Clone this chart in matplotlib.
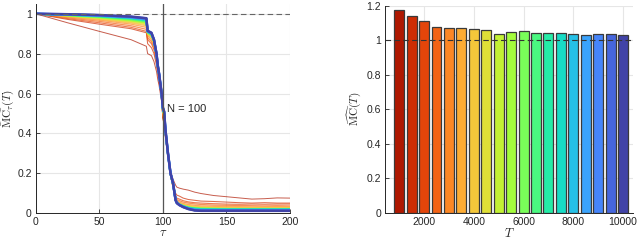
import numpy as np
import matplotlib
matplotlib.use("Agg")
import matplotlib.pyplot as plt

plt.rcParams['font.family'] = ['Liberation Sans', 'DejaVu Sans']
plt.rcParams['mathtext.fontset'] = 'cm'

# sample sizes T (one curve / one bar each)
T_values = [1000, 1500, 2000, 2500, 3000, 3500, 4000, 4500, 5000, 5500,
            6000, 6500, 7000, 7500, 8000, 8500, 9000, 9500, 10000]

# total memory capacity per T (right panel)
mc_total = [1.172, 1.138, 1.109, 1.075, 1.073, 1.069, 1.063, 1.056, 1.038, 1.048,
            1.050, 1.042, 1.040, 1.040, 1.034, 1.031, 1.034, 1.033, 1.031]

tau = [0, 25, 50, 75, 87, 88, 91, 93, 95, 96, 97, 99, 100, 101, 102, 104, 106, 108,
       110, 111, 113, 116, 120, 125, 130, 140, 150, 160, 170, 180, 190, 200]

# memory curve MC_tau(T), one row per T
mc_tau = [
    [1, .955, .912, .870, .837, .800, .790, .760, .710, .670, .640, .560, .480, .460, .390, .290, .210, .170,
     .140, .130, .125, .120, .115, .105, .098, .088, .082, .076, .070, .072, .076, .075],
    [1, .972, .948, .925, .905, .850, .830, .800, .740, .700, .660, .580, .470, .450, .380, .280, .190, .140,
     .100, .090, .085, .075, .068, .064, .060, .058, .055, .052, .050, .052, .050, .050],
    [1, .976, .955, .932, .912, .870, .850, .820, .760, .710, .670, .580, .480, .460, .390, .280, .190, .130,
     .085, .075, .070, .062, .056, .052, .050, .047, .045, .044, .045, .044, .045, .045],
    [1, .980, .962, .940, .922, .880, .860, .830, .770, .720, .680, .590, .490, .470, .390, .290, .190, .130,
     .080, .068, .062, .055, .050, .046, .043, .040, .039, .038, .037, .036, .037, .036],
    [1, .984, .968, .948, .932, .890, .870, .840, .780, .720, .690, .590, .490, .470, .400, .290, .190, .130,
     .075, .062, .055, .048, .043, .039, .036, .034, .033, .032, .031, .031, .032, .031],
    [1, .987, .972, .954, .940, .895, .880, .850, .780, .730, .690, .590, .500, .480, .400, .290, .190, .140,
     .072, .058, .050, .043, .038, .034, .031, .029, .028, .028, .027, .027, .027, .027],
    [1, .989, .975, .958, .945, .900, .885, .855, .785, .730, .690, .595, .510, .490, .405, .295, .195, .140,
     .070, .056, .047, .040, .034, .030, .028, .026, .025, .025, .025, .025, .025, .025],
    [1, .990, .978, .962, .950, .902, .888, .857, .787, .731, .691, .596, .512, .492, .407, .296, .196, .142,
     .069, .055, .046, .038, .032, .028, .026, .024, .023, .023, .023, .023, .023, .023],
    [1, .991, .980, .965, .954, .904, .890, .859, .789, .732, .692, .596, .514, .494, .408, .296, .196, .143,
     .068, .054, .045, .037, .030, .026, .024, .023, .022, .022, .022, .022, .022, .022],
    [1, .992, .982, .968, .958, .905, .892, .861, .790, .733, .693, .597, .516, .496, .410, .297, .197, .144,
     .068, .054, .044, .036, .029, .025, .023, .022, .021, .021, .021, .021, .021, .021],
    [1, .993, .984, .971, .961, .906, .894, .862, .792, .734, .694, .597, .518, .498, .411, .297, .197, .145,
     .067, .053, .044, .035, .028, .024, .022, .021, .020, .020, .020, .020, .020, .020],
    [1, .994, .986, .974, .964, .908, .896, .864, .793, .735, .695, .598, .520, .500, .413, .298, .198, .146,
     .067, .053, .043, .034, .027, .023, .021, .020, .019, .019, .019, .019, .019, .019],
    [1, .995, .988, .977, .967, .909, .898, .865, .794, .736, .696, .598, .522, .502, .414, .298, .198, .146,
     .066, .052, .043, .034, .026, .022, .020, .019, .018, .018, .018, .018, .018, .018],
    [1, .996, .989, .979, .970, .910, .899, .866, .795, .737, .697, .599, .523, .503, .415, .299, .199, .147,
     .066, .052, .042, .033, .025, .020, .018, .017, .017, .017, .017, .017, .017, .017],
    [1, .996, .990, .981, .972, .911, .900, .867, .796, .738, .698, .599, .525, .505, .416, .299, .199, .148,
     .066, .051, .042, .032, .024, .018, .016, .016, .016, .016, .016, .016, .016, .016],
    [1, .997, .991, .982, .974, .912, .901, .868, .797, .738, .698, .600, .526, .506, .417, .300, .200, .148,
     .065, .051, .041, .032, .023, .017, .015, .015, .015, .015, .015, .015, .015, .015],
    [1, .997, .992, .984, .975, .913, .902, .869, .798, .739, .699, .600, .527, .507, .418, .300, .200, .149,
     .065, .051, .041, .031, .022, .015, .013, .013, .013, .013, .013, .013, .013, .013],
    [1, .998, .993, .985, .977, .914, .904, .870, .799, .740, .700, .600, .528, .508, .419, .300, .200, .150,
     .065, .050, .040, .030, .021, .014, .012, .012, .012, .012, .012, .012, .012, .012],
    [1, .998, .994, .986, .978, .915, .905, .870, .800, .740, .700, .600, .530, .510, .420, .300, .200, .150,
     .065, .050, .040, .030, .020, .013, .011, .011, .011, .011, .011, .011, .011, .011],
]

N = 100

cmap = plt.get_cmap('turbo')
colors = [cmap(v) for v in np.linspace(0.93, 0.07, len(T_values))]

axis_col = '#262626'
grid_col = '#e6e6e6'

fig = plt.figure(figsize=(6.4, 2.41), dpi=100)
ax1 = fig.add_axes([0.056, 0.116, 0.397, 0.868])
ax2 = fig.add_axes([0.602, 0.116, 0.387, 0.861])


def style(ax):
    ax.grid(True, color=grid_col, linewidth=0.8)
    ax.set_axisbelow(True)
    for s in ['top', 'right']:
        ax.spines[s].set_visible(False)
    for s in ['left', 'bottom']:
        ax.spines[s].set_color(axis_col)
        ax.spines[s].set_linewidth(0.7)
    ax.tick_params(direction='in', length=3, width=0.6, colors=axis_col,
                   labelsize=7.5, pad=3)


# left panel: memory curves
style(ax1)
for i, row in enumerate(mc_tau):
    a = 0.7 if i < 8 else 1.0
    ax1.plot(tau, row, color=colors[i], linewidth=0.7 + 0.06 * i, alpha=a)
ax1.axhline(1, color='#666666', linestyle=(0, (5, 3)), linewidth=0.8)
ax1.axvline(N, color='#555555', linewidth=0.9)
ax1.text(103, 0.52, 'N = 100', fontsize=8, color=axis_col, va='center', ha='left')
ax1.set_xlim(0, 200)
ax1.set_ylim(0, 1.05)
ax1.set_xticks([0, 50, 100, 150, 200])
ax1.set_yticks([0, 0.2, 0.4, 0.6, 0.8, 1])
ax1.set_yticklabels(['0', '0.2', '0.4', '0.6', '0.8', '1'])
ax1.set_xlabel(r'$\tau$', fontsize=9, labelpad=0, color=axis_col)
ax1.set_ylabel(r'$\widehat{\mathrm{MC}}_\tau(T)$', fontsize=8, color=axis_col)
ax1.yaxis.set_label_coords(-0.075, 0.5)

# right panel: total memory capacity
style(ax2)
ax2.bar(T_values, mc_total, width=400, color=colors, edgecolor='#3a3a3a', linewidth=0.9)
ax2.axhline(1, color='#333333', linestyle=(0, (5, 3)), linewidth=0.8, zorder=5)
ax2.set_xlim(440, 10400)
ax2.set_ylim(0, 1.2)
ax2.set_xticks([2000, 4000, 6000, 8000, 10000])
ax2.set_yticks([0, 0.2, 0.4, 0.6, 0.8, 1, 1.2])
ax2.set_yticklabels(['0', '0.2', '0.4', '0.6', '0.8', '1', '1.2'])
ax2.set_xlabel(r'$T$', fontsize=9, labelpad=0, color=axis_col)
ax2.set_ylabel(r'$\widehat{\mathrm{MC}}(T)$', fontsize=8, color=axis_col)
ax2.yaxis.set_label_coords(-0.085, 0.5)

fig.savefig('out.png', dpi=100)
